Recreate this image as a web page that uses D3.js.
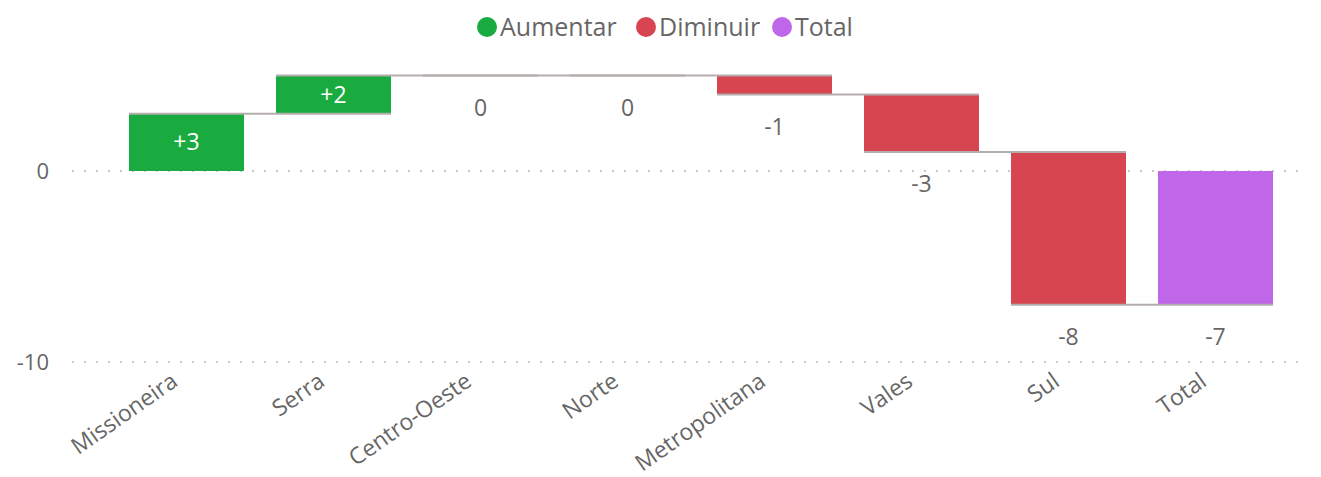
<!DOCTYPE html>
<html>
  <head>
    <meta charset="utf-8">
    <title>waterfall</title>
    <style>
      body { margin: 0; background: #fff; }
      text { font-family: "Open Sans", "Noto Sans", sans-serif; }
      .grid line { stroke: #c8c8c8; stroke-width: 2; stroke-dasharray: 2 10; }
      .axis text { fill: #666; font-size: 22px; }
      .xaxis text { font-size: 23px; }
    </style>
  </head>
  <body>
    <script src="https://cdn.jsdelivr.net/npm/d3@7/dist/d3.min.js"></script>
    <script>
    var width = 1321;
    var height = 477;

    // data
    var categories = ["Missioneira", "Serra", "Centro-Oeste", "Norte", "Metropolitana", "Vales", "Sul", "Total"];
    var changes = [3, 2, 0, 0, -1, -3, -8];
    var totalValue = -7;
    var yTicks = [0, -10];
    var legendNames = ["Aumentar", "Diminuir", "Total"];
    var legendColors = ["#1aab40", "#d64550", "#bf67e8"];

    // build start/end for each bar
    var rows = [];
    var run = 0;
    changes.forEach(function (d, i) {
      rows.push({ name: categories[i], start: run, end: run + d, value: d, kind: d > 0 ? 0 : 1 });
      run += d;
    });
    rows.push({ name: categories[7], start: 0, end: totalValue, value: totalValue, kind: 2 });

    var svg = d3.select('body').append('svg')
      .attr('width', width).attr('height', height);

    var x = d3.scaleBand()
      .domain(categories)
      .range([113, 1289])
      .paddingInner(32 / 147)
      .paddingOuter(16 / 147);

    var y = d3.scaleLinear()
      .domain([-10, 0])
      .range([362, 171]);

    // grid
    svg.append('g').attr('class', 'grid')
      .selectAll('line').data(yTicks).enter().append('line')
      .attr('x1', 72).attr('x2', 1300)
      .attr('y1', d => y(d)).attr('y2', d => y(d));

    // y axis labels
    var yAxis = d3.axisLeft(y).tickValues(yTicks).tickSize(0).tickPadding(0)
      .tickFormat(d => String(d));
    svg.append('g').attr('class', 'axis')
      .attr('transform', 'translate(49,0)')
      .call(yAxis)
      .call(g => g.select('.domain').remove());

    // bars
    svg.selectAll('rect.bar').data(rows).enter().append('rect')
      .attr('class', 'bar')
      .attr('x', d => x(d.name))
      .attr('width', x.bandwidth())
      .attr('y', d => y(Math.max(d.start, d.end)))
      .attr('height', d => Math.abs(y(d.start) - y(d.end)))
      .attr('fill', d => legendColors[d.kind]);

    // connectors
    var links = rows.slice(0, rows.length - 1).map(function (d, i) {
      return { a: d.name, b: rows[i + 1].name, v: d.end };
    });
    svg.selectAll('line.conn').data(links).enter().append('line')
      .attr('class', 'conn')
      .attr('x1', d => x(d.a))
      .attr('x2', d => x(d.b) + x.bandwidth())
      .attr('y1', d => y(d.v)).attr('y2', d => y(d.v))
      .attr('stroke', '#b3aeac').attr('stroke-width', 2);

    // data labels
    svg.selectAll('text.lbl').data(rows).enter().append('text')
      .attr('class', 'lbl')
      .attr('x', d => x(d.name) + x.bandwidth() / 2)
      .attr('y', function (d) {
        if (d.value > 0) return (y(d.start) + y(d.end)) / 2;
        return y(Math.min(d.start, d.end)) + 32;
      })
      .attr('dy', '0.35em')
      .attr('text-anchor', 'middle')
      .attr('font-size', 23)
      .attr('fill', d => d.value > 0 ? '#fff' : '#666')
      .text(d => d.value > 0 ? '+' + d.value : d.value);

    // x axis
    var xAxis = d3.axisBottom(x).tickSize(0).tickPadding(0);
    svg.append('g').attr('class', 'axis xaxis')
      .attr('transform', 'translate(0,378)')
      .call(xAxis)
      .call(g => g.select('.domain').remove())
      .selectAll('text')
      .attr('text-anchor', 'end')
      .attr('dy', '0.35em')
      .attr('transform', 'translate(-12,0) rotate(-35)');

    // legend
    var lx = [487, 646, 782];
    var legend = svg.append('g');
    legendNames.forEach(function (n, i) {
      legend.append('circle').attr('cx', lx[i]).attr('cy', 27).attr('r', 10).attr('fill', legendColors[i]);
      legend.append('text').attr('x', lx[i] + 13).attr('y', 27).attr('dy', '0.35em')
        .attr('font-size', 25).attr('fill', '#666').text(n);
    });
    </script>
  </body>
</html>
